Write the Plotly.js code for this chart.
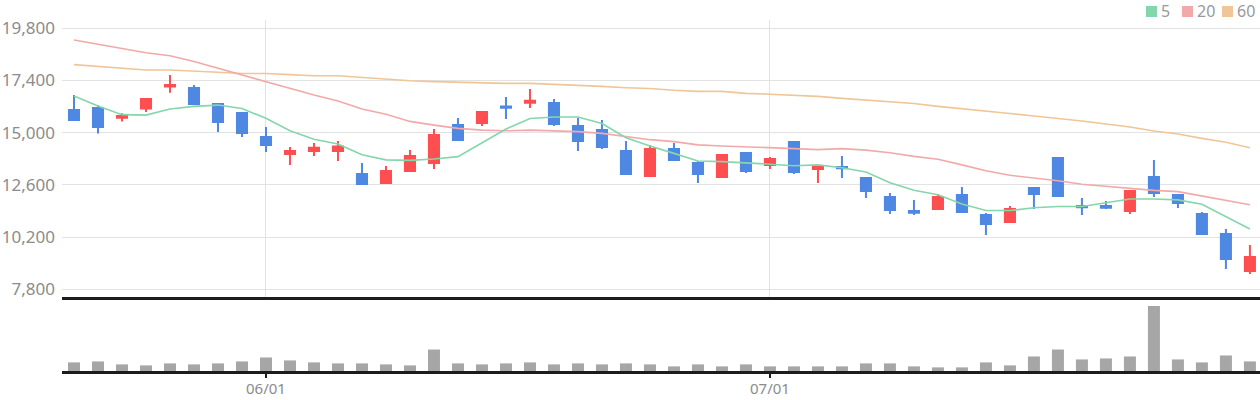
<!DOCTYPE html>
<html>
<head>
<meta charset="utf-8">
<script src="https://cdn.plot.ly/plotly-3.0.1.min.js"></script>
<style>
  html, body { margin: 0; padding: 0; background: #fff; }
  #chart { width: 1260px; height: 400px; }
</style>
</head>
<body>
<div id="chart"></div>
<script>
// 거래일 (2023-05-19 ~ 2023-07-31)
const dates = [
  '05/19', '05/22', '05/23', '05/24', '05/25', '05/26', '05/30', '05/31',
  '06/01', '06/02', '06/05', '06/07', '06/08', '06/09', '06/12', '06/13', '06/14', '06/15', '06/16',
  '06/19', '06/20', '06/21', '06/22', '06/23', '06/26', '06/27', '06/28', '06/29', '06/30',
  '07/03', '07/04', '07/05', '07/06', '07/07', '07/10', '07/11', '07/12', '07/13', '07/14',
  '07/17', '07/18', '07/19', '07/20', '07/21', '07/24', '07/25', '07/26', '07/27', '07/28', '07/31'
];

const openPrice = [
  16040, 16140, 15690, 16110, 17120, 17060, 16320, 15910, 14800, 14020,
  14160, 14160, 13100, 12690, 13240, 13610, 15350, 15450, 16210, 16380,
  16370, 15310, 15120, 14160, 13010, 14250, 13610, 12960, 14070, 13520,
  14570, 13330, 13420, 12920, 12040, 11400, 11490, 12140, 11220, 10890,
  12460, 13840, 11630, 11630, 11400, 12960, 12140, 11260, 10340, 8640
];
const highPrice = [
  16730, 16270, 15890, 16550, 17650, 17190, 16320, 15950, 15260, 14340,
  14530, 14620, 13610, 13470, 14200, 15170, 15680, 16000, 16640, 17010,
  16550, 15680, 15580, 14620, 14440, 14530, 13700, 13980, 14070, 13880,
  14570, 13520, 13930, 12920, 12230, 11910, 12180, 12500, 11310, 11630,
  12500, 13880, 12000, 11860, 12320, 13750, 12140, 11350, 10570, 9840
];
const lowPrice = [
  15540, 14960, 15510, 15950, 16840, 16320, 15030, 14800, 14110, 13520,
  13930, 13700, 12610, 12690, 13240, 13330, 14660, 15310, 15630, 16140,
  15310, 14160, 14250, 13100, 13010, 13700, 12690, 12960, 13150, 13330,
  13100, 12690, 12920, 12000, 11260, 11220, 11490, 11310, 10300, 10890,
  11490, 12040, 11220, 11490, 11260, 12040, 11540, 10340, 8730, 8500
];
const closePrice = [
  15580, 15260, 15770, 16550, 17190, 16320, 15490, 14990, 14440, 14160,
  14310, 14360, 12640, 13240, 13930, 14890, 14660, 15950, 16150, 16470,
  15400, 14620, 14340, 13100, 14250, 13750, 13100, 13980, 13240, 13790,
  13190, 13470, 13360, 12320, 11450, 11320, 12040, 11350, 10800, 11490,
  12180, 12090, 11570, 11550, 12320, 12230, 11770, 10340, 9190, 9280
];

// 이동평균선
const ma5 = [
  16690, 16230, 15830, 15810, 16090, 16210, 16270, 16110, 15660, 15090,
  14700, 14480, 13990, 13750, 13730, 13790, 13900, 14540, 15170, 15650,
  15720, 15720, 15420, 14770, 14390, 14050, 13700, 13670, 13620, 13550,
  13480, 13520, 13390, 13190, 12700, 12350, 12150, 11720, 11420, 11420,
  11550, 11610, 11610, 11770, 11950, 11950, 11910, 11710, 11140, 10570
];
const ma20 = [
  19260, 19080, 18870, 18680, 18540, 18270, 17960, 17650, 17320, 17040,
  16730, 16460, 16090, 15850, 15520, 15350, 15200, 15120, 15090, 15120,
  15080, 15050, 14970, 14820, 14680, 14590, 14440, 14390, 14360, 14310,
  14270, 14220, 14270, 14200, 14080, 13910, 13780, 13520, 13250, 13040,
  12920, 12790, 12630, 12530, 12440, 12350, 12290, 12100, 11910, 11690
];
const ma60 = [
  18130, 18040, 17950, 17880, 17880, 17840, 17780, 17720, 17720, 17670,
  17620, 17620, 17540, 17490, 17390, 17350, 17320, 17300, 17270, 17270,
  17230, 17180, 17130, 17070, 17030, 16950, 16900, 16900, 16810, 16770,
  16720, 16670, 16580, 16500, 16430, 16340, 16210, 16090, 15980, 15880,
  15770, 15660, 15540, 15400, 15260, 15080, 14940, 14740, 14560, 14310
];

// 거래량
const volume = [
  260000, 290000, 200000, 170000, 230000, 200000, 230000, 290000, 410000, 320000,
  260000, 230000, 230000, 200000, 170000, 650000, 230000, 200000, 230000, 260000,
  200000, 230000, 200000, 230000, 200000, 140000, 200000, 140000, 200000, 140000,
  140000, 140000, 140000, 230000, 230000, 140000, 110000, 110000, 260000, 170000,
  440000, 650000, 350000, 380000, 440000, 1970000, 350000, 260000, 470000, 290000
];

const maNames = ['5', '20', '60'];
const maColors = ['#84d6ab', '#f2a9a9', '#f0c598'];
const priceTicks = [7800, 10200, 12600, 15000, 17400, 19800];
const dateTickVals = ['06/01', '07/03'];
const dateTickText = ['06/01', '07/01'];

const UP = '#fe4e50';
const DOWN = '#4f88e3';
const GREY = '#8c8c8c';

const traces = [];

[ma60, ma20, ma5].forEach((arr, i) => {
  const k = 2 - i;
  traces.push({
    x: dates,
    y: arr,
    type: 'scatter',
    mode: 'lines',
    name: maNames[k],
    line: { color: maColors[k], width: 1.6 },
    showlegend: false,
    hoverinfo: 'skip',
    xaxis: 'x',
    yaxis: 'y'
  });
});

traces.push({
  x: dates,
  open: openPrice,
  high: highPrice,
  low: lowPrice,
  close: closePrice,
  type: 'candlestick',
  increasing: { line: { color: UP, width: 2 }, fillcolor: UP },
  decreasing: { line: { color: DOWN, width: 2 }, fillcolor: DOWN },
  whiskerwidth: 0,
  showlegend: false,
  xaxis: 'x',
  yaxis: 'y'
});

traces.push({
  x: dates,
  y: volume,
  type: 'bar',
  marker: { color: '#a6a6a6' },
  showlegend: false,
  xaxis: 'x2',
  yaxis: 'y2'
});

// 범례 (사각형 + 숫자)
const legendX = [-114, -78, -38];
const shapes = [];
const annotations = [];
maNames.forEach((n, i) => {
  shapes.push({
    type: 'rect',
    xref: 'paper', yref: 'paper',
    xsizemode: 'pixel', ysizemode: 'pixel',
    xanchor: 1, yanchor: 1,
    x0: legendX[i], x1: legendX[i] + 11,
    y0: 3, y1: 14,
    fillcolor: maColors[i],
    line: { width: 0 }
  });
  annotations.push({
    text: n,
    xref: 'paper', yref: 'paper',
    x: 1, y: 1,
    xanchor: 'left', yanchor: 'middle',
    xshift: legendX[i] + 13, yshift: 9,
    showarrow: false,
    font: { size: 16, color: '#999999' }
  });
});

const volTop = (371 - 297) / 351;

const layout = {
  width: 1260,
  height: 400,
  margin: { l: 62, r: 0, t: 20, b: 29 },
  paper_bgcolor: '#ffffff',
  plot_bgcolor: '#ffffff',
  font: { family: 'Noto Sans, sans-serif', color: GREY, size: 16 },
  showlegend: false,
  hovermode: false,
  boxgap: 0.4,
  bargap: 0.5,
  xaxis: {
    type: 'category',
    range: [-0.5, 49.42],
    domain: [0, 1],
    anchor: 'y',
    rangeslider: { visible: false },
    tickvals: dateTickVals,
    ticktext: dateTickText,
    showticklabels: false,
    ticks: '',
    showgrid: true,
    gridcolor: '#e2e2e2',
    gridwidth: 1,
    showline: true,
    linecolor: '#1c1c1c',
    linewidth: 2.5,
    zeroline: false
  },
  yaxis: {
    domain: [volTop, 1],
    anchor: 'x',
    range: [7446, 20182],
    tickvals: priceTicks,
    tickformat: ',d',
    ticks: '',
    ticklabelstandoff: 6,
    tickfont: { size: 17, color: GREY },
    showgrid: true,
    gridcolor: '#e2e2e2',
    gridwidth: 1,
    zeroline: false,
    showline: false
  },
  xaxis2: {
    type: 'category',
    range: [-0.5, 49.42],
    domain: [0, 1],
    anchor: 'y2',
    matches: 'x',
    tickvals: dateTickVals,
    ticktext: dateTickText,
    ticks: 'outside',
    ticklen: 4,
    tickwidth: 2,
    tickcolor: '#1c1c1c',
    ticklabelstandoff: -2,
    tickfont: { size: 15, color: GREY },
    showgrid: false,
    showline: true,
    linecolor: '#1c1c1c',
    linewidth: 2.5,
    zeroline: false
  },
  yaxis2: {
    domain: [0, volTop],
    anchor: 'x2',
    range: [0, 2240000],
    showticklabels: false,
    ticks: '',
    showgrid: false,
    zeroline: false,
    showline: false
  },
  shapes: shapes,
  annotations: annotations
};

Plotly.newPlot('chart', traces, layout, { displayModeBar: false, staticPlot: true });
</script>
</body>
</html>
